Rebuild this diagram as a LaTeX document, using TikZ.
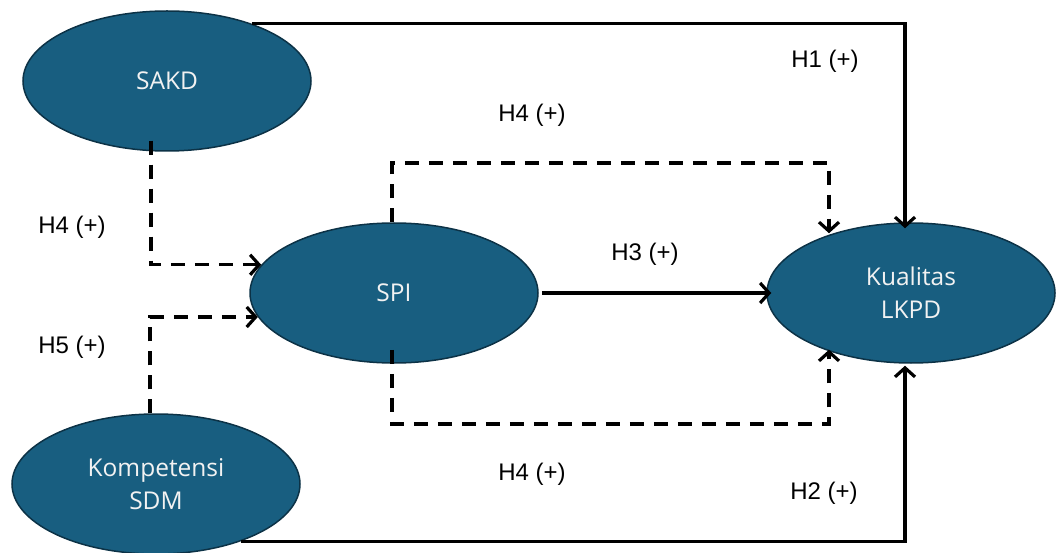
\documentclass[tikz,border=0pt]{standalone}
\usepackage{fontspec}
\setmainfont{Liberation Sans}
\newfontfamily\ellfont{Open Sans}
\usetikzlibrary{shapes.geometric,arrows.meta}
\definecolor{ellfill}{RGB}{24,94,128}
\definecolor{elldraw}{RGB}{12,50,70}
\definecolor{elltext}{RGB}{242,242,242}
\tikzset{
  var/.style={ellipse, draw=elldraw, line width=1.5pt, fill=ellfill, minimum width=288pt, minimum height=140pt, inner sep=0pt, text=elltext, font=\ellfont\fontsize{24.5}{33}\selectfont, align=center},
  hyp/.style={font=\fontsize{24}{29}\selectfont, text=black, inner sep=0pt},
  conn/.style={line width=3.2pt, draw=black, -{Straight Barb[length=9pt,width=20pt]}},
  dconn/.style={conn, dash pattern=on 14pt off 10pt},
}
\begin{document}
\begin{tikzpicture}[x=1pt,y=-1pt]
\useasboundingbox (0,0) rectangle (1057,553);
\node[var] (sakd) at (167,81) {SAKD};
\node[var] (komp) at (156,484) {Kompetensi\\SDM};
\node[var] (spi) at (394,293) {SPI};
\node[var] (kual) at (911,293) {Kualitas\\LKPD};
\coordinate (toprail) at (0,163);
\coordinate (botrail) at (0,424);
% H1
\draw[conn] (sakd.34) -| ([xshift=-6pt,yshift=-6pt]kual.north);
% H2
\draw[conn] (komp.-34) -| ([xshift=-6pt,yshift=-2pt]kual.south);
% H3
\draw[conn] ([xshift=3pt]spi.east) -- ([xshift=5pt]kual.west);
% H4 SAKD -> SPI
\draw[dconn] ([xshift=-16pt,yshift=11pt]sakd.south) |- (spi.168);
% H5 Kompetensi -> SPI
\draw[dconn] ([xshift=-6pt]komp.north) |- (spi.190);
% H4 top
\draw[dconn] ([xshift=-2pt]spi.north) -- ([xshift=-2pt]spi.north |- toprail) -| ([xshift=-82pt,yshift=-11pt]kual.north);
% H4 bottom
\draw[dconn] ([xshift=-2pt,yshift=14pt]spi.south) -- ([xshift=-2pt]spi.south |- botrail) -| ([xshift=-82pt,yshift=14pt]kual.south);
% labels
\node[hyp] (l1) at (825,61) {H1 (+)};
\node[hyp] (l4a) at (532,115) {H4 (+)};
\node[hyp] (l4b) at (72,227) {H4 (+)};
\node[hyp] (l3) at (645,254) {H3 (+)};
\node[hyp] (l5) at (72,347) {H5 (+)};
\node[hyp] (l4c) at (532,474) {H4 (+)};
\node[hyp] (l2) at (824,493) {H2 (+)};
\end{tikzpicture}
\end{document}
